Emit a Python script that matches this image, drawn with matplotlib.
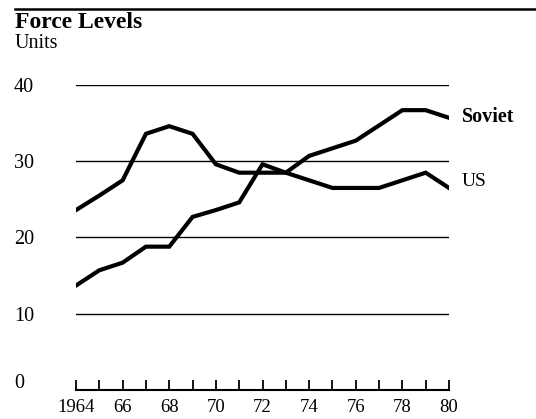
import matplotlib
matplotlib.use("Agg")
import matplotlib.pyplot as plt
from matplotlib.transforms import blended_transform_factory
from matplotlib.lines import Line2D

years = list(range(1964, 1981))
soviet = [13.7, 15.7, 16.7, 18.8, 18.8, 22.7, 23.6, 24.6, 29.6, 28.5,
          30.7, 31.7, 32.7, 34.7, 36.7, 36.7, 35.7]
us = [23.6, 25.5, 27.5, 33.6, 34.6, 33.6, 29.6, 28.5, 28.5, 28.5,
      27.5, 26.5, 26.5, 26.5, 27.5, 28.5, 26.5]
y_ticks = [0, 10, 20, 30, 40]
x_label_years = list(range(1964, 1981, 2))
x_labels = ["1964", "66", "68", "70", "72", "74", "76", "78", "80"]

W, H = 536, 419
fig = plt.figure(figsize=(W / 100, H / 100), dpi=100)
fig.patch.set_facecolor("white")
serif = "Liberation Serif"

ax = fig.add_axes([76 / W, 1 - 390 / H, (449 - 76) / W, (390 - 85) / H])
ax.set_xlim(1964, 1980)
ax.set_ylim(0, 40)
for s in ["top", "right", "left"]:
    ax.spines[s].set_visible(False)
ax.spines["bottom"].set_linewidth(1.5)
ax.set_facecolor("none")

# gridlines
for v in y_ticks[1:]:
    ax.axhline(v, color="black", lw=1.0, zorder=1)

ax.plot(years, soviet, color="black", lw=3.0, solid_joinstyle="miter", zorder=3)
ax.plot(years, us, color="black", lw=3.0, solid_joinstyle="miter", zorder=3)

ax.set_xticks(years)
ax.set_xticklabels([])
ax.tick_params(axis="x", direction="in", length=7, width=1.3, color="black")
ax.set_yticks([])

# x labels
for yr, lab in zip(x_label_years, x_labels):
    ax.text(yr, -2.3, lab, ha="center", va="center", fontsize=13.5,
            family=serif, transform=ax.transData, clip_on=False)

# y labels
tr = blended_transform_factory(fig.transFigure, ax.transData)
for v in y_ticks:
    ax.text(14 / W, v - 0.3 if v else 0.9, str(v), ha="left", va="center",
            fontsize=14.5, family=serif, transform=tr, clip_on=False)

# series labels
ax.text(1980.55, soviet[-1] + 0.1, "Soviet", ha="left", va="center",
        fontsize=14.5, fontweight="bold", family=serif, clip_on=False)
ax.text(1980.55, us[-1] + 0.8, "US", ha="left", va="center",
        fontsize=14, family=serif, clip_on=False)

# title and top rule
fig.add_artist(Line2D([15 / W, 1.0], [1 - 9 / H, 1 - 9 / H], color="black",
                      lw=1.8, transform=fig.transFigure))
fig.text(15 / W, 1 - 27.5 / H, "Force Levels", ha="left", va="baseline",
         fontsize=17, fontweight="bold", family=serif)
fig.text(15 / W, 1 - 47.5 / H, "Units", ha="left", va="baseline",
         fontsize=14.5, family=serif)

fig.savefig("out.png", dpi=100, facecolor="white")
